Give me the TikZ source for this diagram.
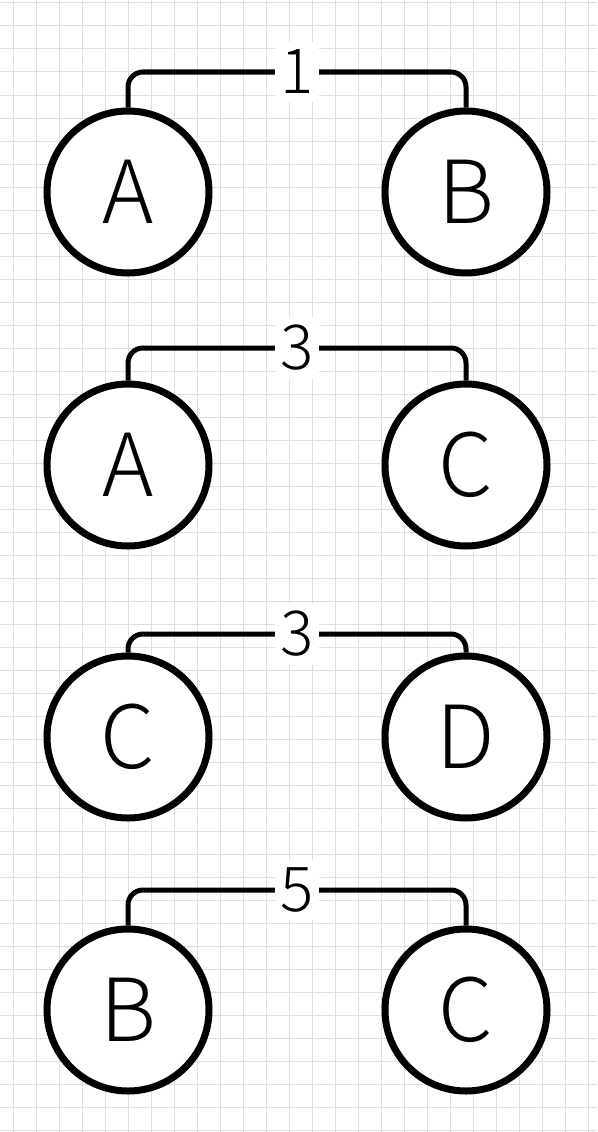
\documentclass[tikz,border=0pt]{standalone}
\usepackage{fontspec}
\setmainfont{Noto Sans CJK SC Light}
\begin{document}
\begin{tikzpicture}[x=1pt,y=-1pt,
  gridline/.style={draw=black!13,line width=1pt},
  vert/.style={circle,draw=black,line width=7pt,minimum size=162pt,inner sep=0pt,fill=white,font=\fontsize{87}{90}\selectfont},
  wlabel/.style={fill=white,inner xsep=5pt,inner ysep=8pt,font=\fontsize{62}{64}\selectfont},
  conn/.style={draw=black,line width=5pt,rounded corners=15pt}]
\useasboundingbox (0,0) rectangle (597,1132);
\fill[white] (0,0) rectangle (597,1132);
\foreach \i in {0,...,25} \draw[gridline] (13+23*\i,0) -- (13+23*\i,1132);
\foreach \j in {0,...,49} \draw[gridline] (0,3+23*\j) -- (597,3+23*\j);
% row 1
\node[vert] (a1) at (128,192) {A};
\node[vert] (b1) at (466,192) {B};
\coordinate (m1) at (297,72);
\draw[conn] (a1.north) |- (m1) -| (b1.north);
\node[wlabel] (w1) at (m1) {1};
% row 2
\node[vert] (a2) at (128,465) {A};
\node[vert] (c2) at (466,465) {C};
\coordinate (m2) at (297,348);
\draw[conn] (a2.north) |- (m2) -| (c2.north);
\node[wlabel] (w2) at (m2) {3};
% row 3
\node[vert] (c3) at (128,737) {C};
\node[vert] (d3) at (466,737) {D};
\coordinate (m3) at (297,634);
\draw[conn] (c3.north) |- (m3) -| (d3.north);
\node[wlabel] (w3) at (m3) {3};
% row 4
\node[vert] (b4) at (128,1010) {B};
\node[vert] (c4) at (466,1010) {C};
\coordinate (m4) at (297,890);
\draw[conn] (b4.north) |- (m4) -| (c4.north);
\node[wlabel] (w4) at (m4) {5};
\end{tikzpicture}
\end{document}
